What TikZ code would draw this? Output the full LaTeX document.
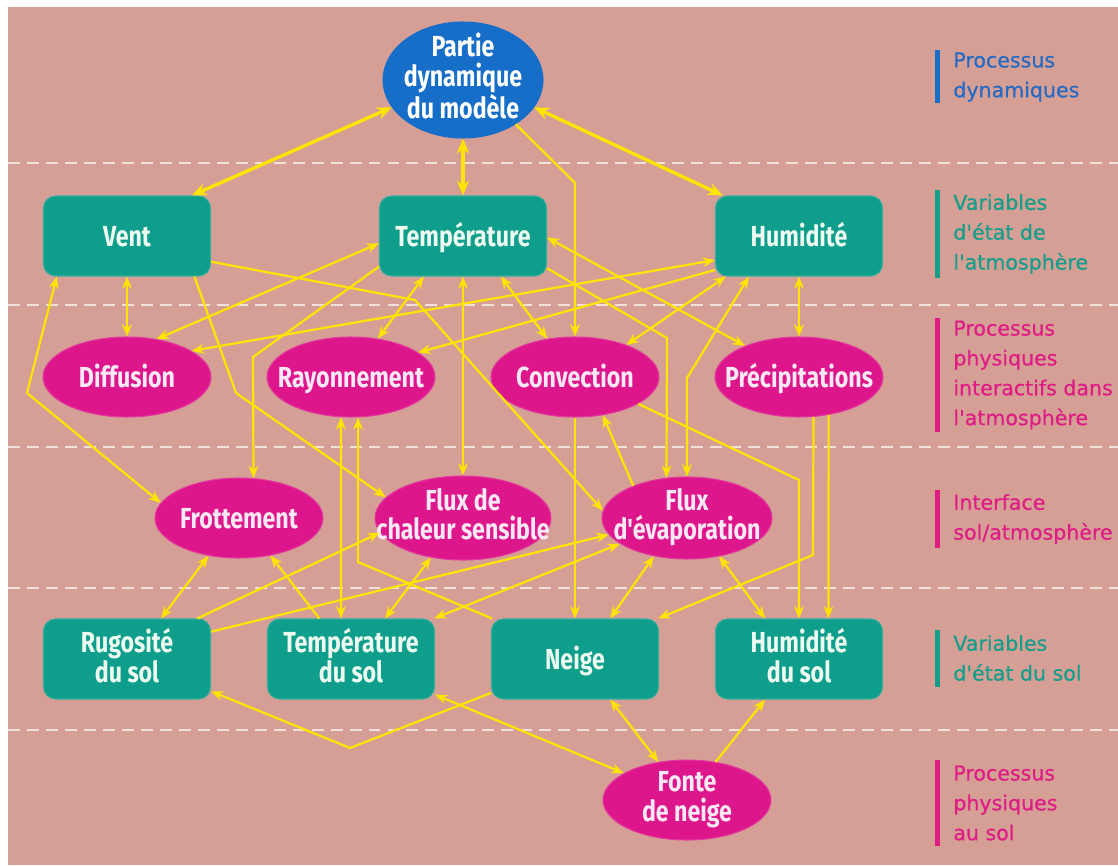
\documentclass[tikz,border=0pt]{standalone}
\usepackage{fontspec}
\setmainfont{Fira Sans}
\newfontfamily\boxfont{Fira Sans}[FakeStretch=0.8, Ligatures=TeXOff]
\newfontfamily\legfont{DejaVu Sans}[Ligatures=TeXOff, FakeBold=0.5]
\usepackage{xcolor}
\usepackage{tikz}
\usetikzlibrary{arrows.meta, shapes.geometric}

\definecolor{bgpink}{RGB}{214,159,150}
\definecolor{sepc}{RGB}{242,224,218}
\definecolor{tealc}{RGB}{16,158,140}
\definecolor{magc}{RGB}{221,22,140}
\definecolor{dynblue}{RGB}{22,110,200}
\definecolor{yel}{RGB}{255,228,0}
\definecolor{tealtxt}{RGB}{236,252,240}
\definecolor{magtxt}{RGB}{255,232,246}
\definecolor{legblue}{RGB}{36,106,196}
\definecolor{legteal}{RGB}{20,158,138}
\definecolor{legmag}{RGB}{222,28,132}

\newcommand{\nodefnt}{\boxfont\bfseries\fontsize{16.5}{17}\selectfont}
\newcommand{\legfnt}{\legfont\fontsize{11.7}{17}\selectfont}
\newcommand{\vstrut}{\rule[-4.5pt]{0pt}{20.4pt}}

\begin{document}
\begin{tikzpicture}[
    x=0.02cm, y=-0.02cm,
    var/.style={rectangle, rounded corners=0.24cm, fill=tealc, draw=tealc!85!white,
      line width=0.6pt, minimum width=3.34cm, minimum height=1.6cm, inner sep=0pt,
      align=center, text=tealtxt, font=\nodefnt,
      execute at begin node=\vstrut, execute at end node=\vstrut},
    proc/.style={ellipse, fill=magc, draw=magc!85!white, line width=0.6pt,
      minimum width=3.36cm, minimum height=1.6cm, inner xsep=-3cm, inner ysep=-1cm,
      align=center, text=magtxt, font=\nodefnt,
      execute at begin node=\vstrut, execute at end node=\vstrut},
    dyn/.style={proc, fill=dynblue, draw=dynblue, minimum width=3.2cm,
      minimum height=2.32cm, text=white},
    lnk/.style={draw=yel, line width=1.25pt, line join=round,
      -{Stealth[length=7pt, width=5.5pt]}},
    dbl/.style={lnk, {Stealth[length=7pt, width=5.5pt]}-{Stealth[length=7pt, width=5.5pt]}},
    thk/.style={lnk, line width=1.9pt,
      {Stealth[length=8.5pt, width=7pt]}-{Stealth[length=8.5pt, width=7pt]}},
    sep/.style={draw=sepc, line width=0.9pt, dash pattern=on 6.8pt off 4pt},
    leg/.style={anchor=west, align=left, inner sep=0pt, font=\legfnt}
  ]

  \useasboundingbox (0,0) rectangle (1118,865);
  \fill[white] (0,0) rectangle (1118,865);
  \fill[bgpink] (8,7) rectangle (1118,865);

  % ══ LAYER SEPARATORS ══════════════════════════════════════════════════════
  \foreach \yy in {163,305,447,588,730}
    \draw[sep] (8,\yy) -- (1118,\yy);

  % ══ NODES ═════════════════════════════════════════════════════════════════
  \node[dyn] (part) at (463,80) {Partie\\dynamique\\du modèle};

  % atmosphere state
  \node[var] (vent) at (127,236) {Vent};
  \node[var] (temp) at (463,236) {Température};
  \node[var] (humi) at (799,236) {Humidité};

  % atmosphere processes
  \node[proc] (diff) at (127,377) {Diffusion};
  \node[proc] (rayo) at (351,377) {Rayonnement};
  \node[proc] (conv) at (575,377) {Convection};
  \node[proc] (prec) at (799,377) {Précipitations};

  % interface
  \node[proc] (frot) at (239,518) {Frottement};
  \node[proc, minimum width=3.52cm, minimum height=1.68cm] (flch) at (463,518)
    {Flux de\\chaleur sensible};
  \node[proc, minimum width=3.4cm, minimum height=1.64cm] (flev) at (687,518)
    {Flux\\d'évaporation};

  % soil state
  \node[var] (rugo) at (127,659) {Rugosité\\du sol};
  \node[var] (tsol) at (351,659) {Température\\du sol};
  \node[var] (neig) at (575,659) {Neige};
  \node[var] (hsol) at (799,659) {Humidité\\du sol};

  % soil process
  \node[proc] (fonte) at (687,800) {Fonte\\de neige};

  % ══ LEGEND ════════════════════════════════════════════════════════════════
  \fill[dynblue] (935,50) rectangle (940,103);
  \node[leg, text=legblue] (lg1) at (953,77) {Processus\\dynamiques};
  \fill[legteal] (935,190) rectangle (940,278);
  \node[leg, text=legteal] (lg2) at (953,234) {Variables\\d'état de\\l'atmosphère};
  \fill[legmag] (935,318) rectangle (940,432);
  \node[leg, text=legmag] (lg3) at (953,375)
    {Processus\\physiques\\interactifs dans\\l'atmosphère};
  \fill[legmag] (935,490) rectangle (940,548);
  \node[leg, text=legmag] (lg4) at (953,519) {Interface\\sol/atmosphère};
  \fill[legteal] (935,630) rectangle (940,687);
  \node[leg, text=legteal] (lg5) at (953,658) {Variables\\d'état du sol};
  \fill[legmag] (935,760) rectangle (940,846);
  \node[leg, text=legmag] (lg6) at (953,803) {Processus\\physiques\\au sol};

  % ══ BEND POINTS ═══════════════════════════════════════════════════════════
  \coordinate (pc) at (575,183);
  \coordinate (vf) at (27,393);
  \coordinate (vc) at (236,393);
  \coordinate (ve) at (415,300);
  \coordinate (tf) at (253,357);
  \coordinate (te) at (667,338);
  \coordinate (he) at (687,378);
  \coordinate (ch) at (799,480);
  \coordinate (pn) at (813,555);
  \coordinate (nr) at (358,562);
  \coordinate (nb) at (350,748);

  % ══ CONNECTORS ════════════════════════════════════════════════════════════
  % dynamics
  \draw[thk] (part.201) -- (vent.32);
  \draw[thk] (part.south) -- (temp.north);
  \draw[thk] (part.339) -- (humi.152);
  \draw[lnk] (part.320) -- (pc) -- (conv.north);

  % from wind
  \draw[dbl] (vent.south) -- (diff.north);
  \draw[dbl] (vent.210) -- (vf) -- (frot.169);
  \draw[lnk] (vent.329) -- (vc) -- (flch.165);
  \draw[lnk] (vent.343) -- (ve) -- (flev.175);

  % from temperature
  \draw[dbl] (temp.185) -- (diff.52);
  \draw[dbl] (temp.226) -- (rayo.55);
  \draw[lnk] (temp.200) -- (tf) -- (frot.70);
  \draw[dbl] (temp.south) -- (flch.north);
  \draw[dbl] (temp.313) -- (conv.126);
  \draw[lnk] (temp.339) -- (te) -- (flev.117);
  \draw[dbl] (temp.359) -- (prec.150);

  % from humidity
  \draw[dbl] (humi.196) -- (diff.22);
  \draw[lnk] (humi.202) -- (rayo.20);
  \draw[dbl] (humi.209) -- (conv.32);
  \draw[dbl] (humi.219) -- (he) -- (flev.north);
  \draw[dbl] (humi.south) -- (prec.north);

  % processes down to the ground
  \draw[lnk] (flev.149) -- (conv.306);
  \draw[lnk] (conv.south) -- (neig.north);
  \draw[lnk] (conv.337) -- (ch) -- (hsol.north);
  \draw[lnk] (prec.308) -- (hsol.54);
  \draw[lnk] (prec.290) -- (pn) -- (neig.26);
  \draw[dbl] (rayo.256) -- (tsol.104);
  \draw[lnk] (neig.154) -- (nr) -- (rayo.280);

  % soil and interface
  \draw[dbl] (rugo.50) -- (frot.231);
  \draw[lnk] (tsol.128) -- (frot.310);
  \draw[lnk] (rugo.30) -- (flch.190);
  \draw[lnk] (rugo.18) -- (flev.192);
  \draw[dbl] (tsol.50) -- (flch.231);
  \draw[dbl] (tsol.26) -- (flev.201);
  \draw[dbl] (neig.49) -- (flev.229);
  \draw[dbl] (flev.310) -- (hsol.130);

  % snow melt
  \draw[dbl] (neig.311) -- (fonte.127);
  \draw[lnk] (fonte.53) -- (hsol.230);
  \draw[lnk] (neig.202) -- (nb) -- (rugo.339);
  \draw[dbl] (tsol.337) -- (fonte.157);

\end{tikzpicture}
\end{document}
